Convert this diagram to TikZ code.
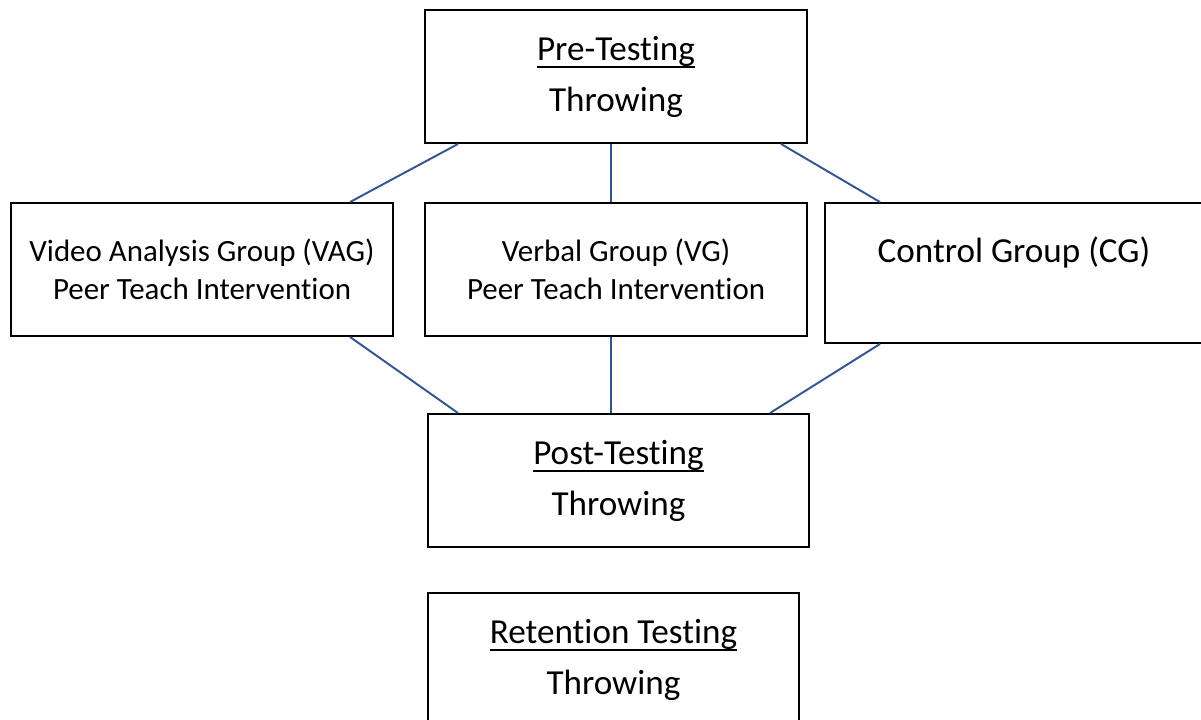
\documentclass[tikz,border=0pt]{standalone}
\usepackage{fontspec}
\setmainfont[Ligatures=NoCommon]{Carlito}
\usetikzlibrary{positioning,calc}
\definecolor{linkblue}{RGB}{47,85,151}
% underline set close under the baseline
\newcommand{\ulined}[1]{\setbox0\hbox{#1}\rlap{\rule[-4.6pt]{\wd0}{1.1pt}}\box0}

\begin{document}
\begin{tikzpicture}
[x=0.02cm, y=-0.02cm, line width=1.1pt,
box/.style={rectangle, draw=black, inner sep=0pt, minimum width=7.64cm, minimum height=2.66cm, align=center},
testbox/.style={box, font=\fontsize{20}{29}\selectfont},
groupbox/.style={box, font=\fontsize{17.6}{21.6}\selectfont},
link/.style={draw=linkblue, line width=1.1pt}]

\useasboundingbox (0,0) rectangle (1201,720);

% testing stages
\node[testbox] (pre) at (616,76.5) {\ulined{Pre-Testing}\\Throwing};
\node[testbox, minimum width=7.62cm] (post) at (618.5,480.5) {\ulined{Post-Testing}\\Throwing};
\node[testbox, minimum width=7.42cm] (ret) at (613.5,659.5) {\ulined{Retention Testing}\\Throwing};

% groups
\node[groupbox] (vag) at (202,269.5) {Video Analysis Group (VAG)\\Peer Teach Intervention};
\node[groupbox] (vg) at (616,269.5) {Verbal Group (VG)\\Peer Teach Intervention};
\node[groupbox, minimum width=8cm, minimum height=2.8cm,
  label={[font=\fontsize{20}{29}\selectfont, xshift=-0.22cm, yshift=0.42cm]center:Control Group (CG)}] (cg) at (1025,273) {};

\draw[link] ([xshift=-3.16cm]pre.south) -- ([xshift=2.96cm]vag.north);
\draw[link] ([xshift=-0.1cm]pre.south) -- ([xshift=-0.1cm]vg.north);
\draw[link] ([xshift=3.3cm]pre.south) -- ([xshift=-2.9cm]cg.north);
\draw[link] ([xshift=2.96cm]vag.south) -- ([xshift=-3.21cm]post.north);
\draw[link] ([xshift=-0.1cm]vg.south) -- ([xshift=-0.15cm]post.north);
\draw[link] ([xshift=-2.9cm]cg.south) -- ([xshift=3.03cm]post.north);
\end{tikzpicture}
\end{document}
